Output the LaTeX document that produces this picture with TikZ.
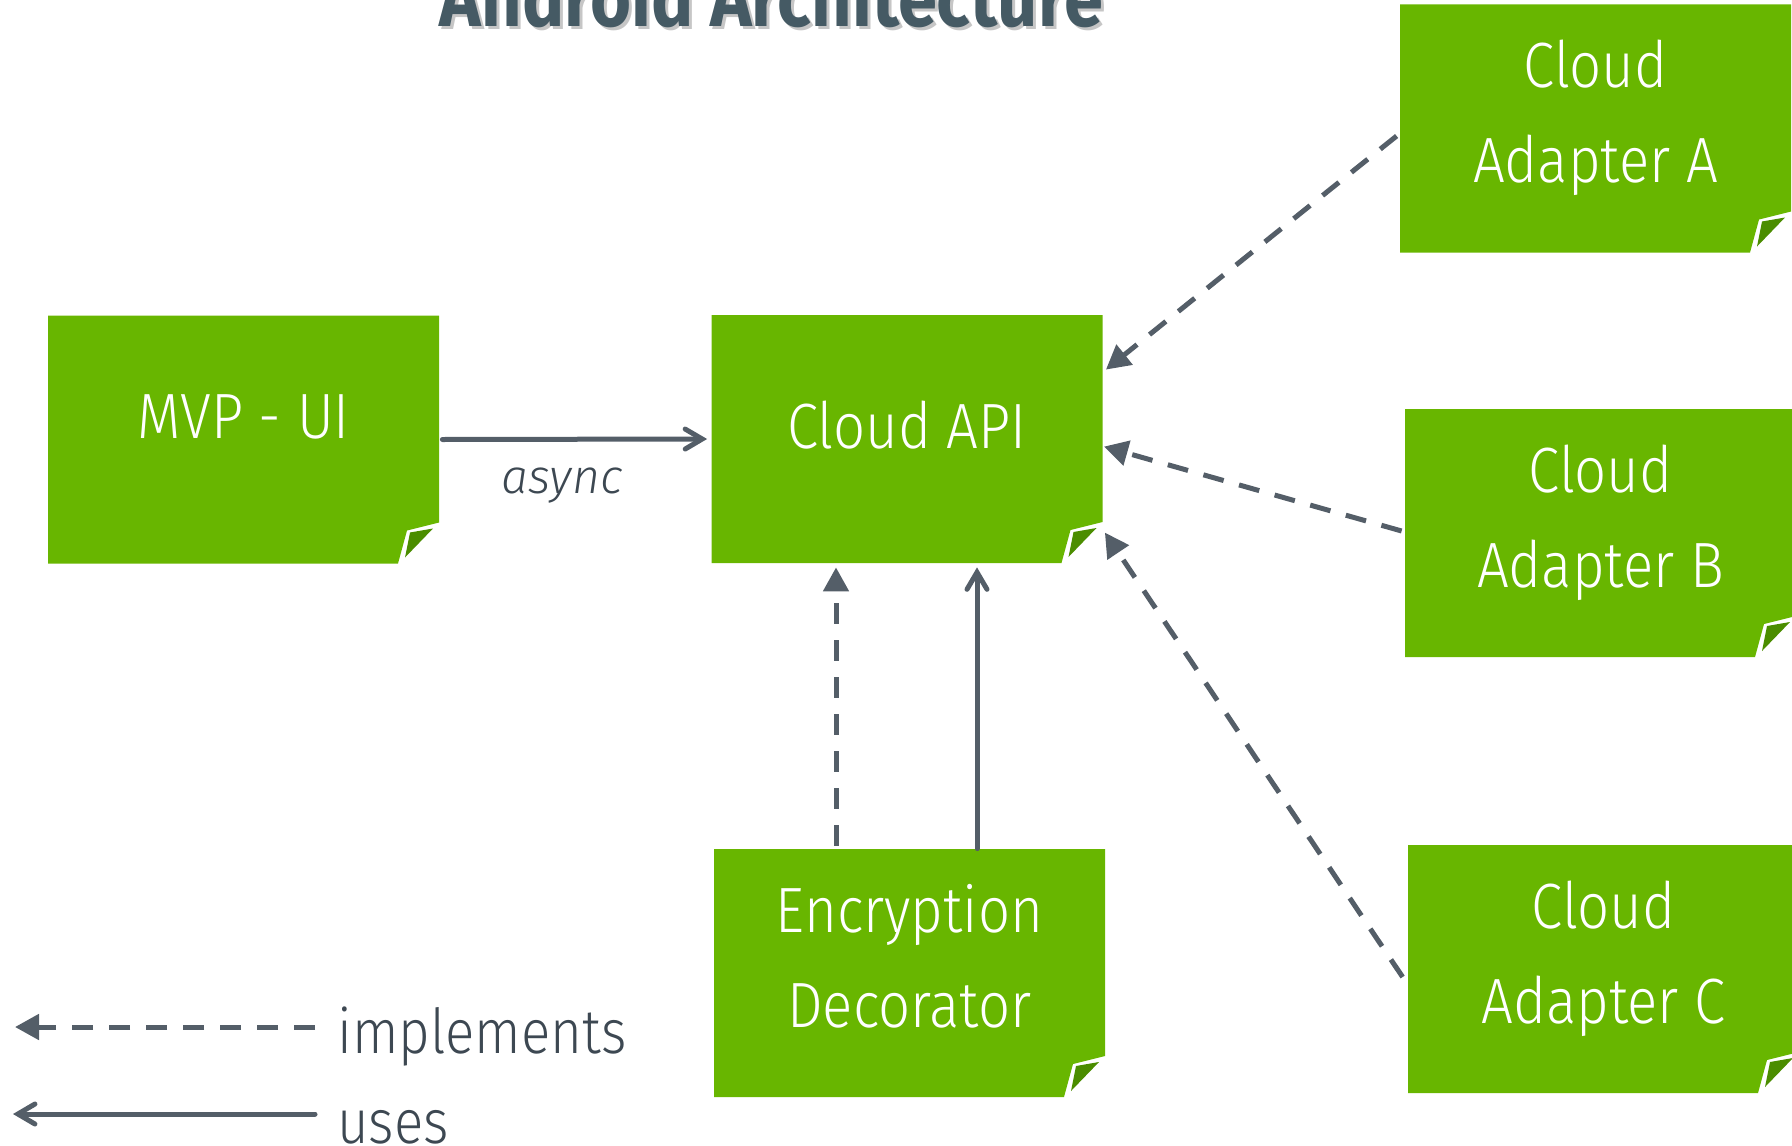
\documentclass[tikz,border=0pt]{standalone}
\usepackage{fontspec}
\usetikzlibrary{arrows.meta}

\newfontfamily\boxfont{Fira Sans}[UprightFont={* Light},ItalicFont={* Light Italic},FakeStretch=0.88]
\newfontfamily\labelfont{Fira Sans}[UprightFont={* Light},ItalicFont={* Light Italic}]
\newfontfamily\titlefont{Fira Sans}[UprightFont={* Bold},FakeStretch=0.88]

\definecolor{notegreen}{HTML}{68B600}
\definecolor{notefold}{HTML}{4B8D00}
\definecolor{wire}{HTML}{545E68}
\definecolor{ink}{HTML}{3D4852}
\definecolor{titleblue}{HTML}{455A64}
\definecolor{titleshade}{HTML}{C6C6C6}

\tikzset{
  % green note with a folded lower right corner
  note/.style={
    minimum width=195.5pt, minimum height=124pt, inner sep=0pt,
    text=white, font=\boxfont\fontsize{32pt}{47.5pt}\selectfont,
    path picture={
      \fill[notegreen]
        (path picture bounding box.north west)
        -- (path picture bounding box.north east)
        -- ([shift={(0,-41)}]path picture bounding box.south east)
        -- ([shift={(-32,-33)}]path picture bounding box.south east)
        -- ([shift={(-41,0)}]path picture bounding box.south east)
        -- (path picture bounding box.south west) -- cycle;
      \fill[notefold]
        ([shift={(-29,-31)}]path picture bounding box.south east)
        -- ([shift={(-6,-35)}]path picture bounding box.south east)
        -- ([shift={(-34,-6)}]path picture bounding box.south east) -- cycle;
    }},
  twoline/.style={text height=0pt, text depth=41pt},
  impl/.style={wire, line width=2.5pt, dash pattern=on 10.5pt off 8pt,
    -{Triangle[length=12pt,width=12.5pt]}},
  uses/.style={wire, line width=2.5pt, line cap=round,
    -{Straight Barb[length=8.5pt,width=10pt,line cap=round]}},
  legendtext/.style={text=ink, inner sep=0pt, anchor=base west,
    font=\boxfont\fontsize{31pt}{37pt}\selectfont},
  titletext/.style={inner sep=0pt, anchor=base,
    font=\titlefont\fontsize{40pt}{48pt}\selectfont},
}

\begin{document}
\begin{tikzpicture}[x=0.5pt, y=-0.5pt]
\useasboundingbox (0,0) rectangle (1792,1145);
\clip (0,0) rectangle (1792,1145);

% title
\node[titletext, text=titleshade] (titleshadow) at (774.5,30) {Android Architecture};
\node[titletext, text=titleblue] (title) at (771.5,27) {Android Architecture};

% components
\node[note, text height=0pt, text depth=1.5pt] (mvp) at (243.5,439.5) {MVP - UI};
\node[note, text height=9.5pt, text depth=0pt] (api) at (907,439) {Cloud API};
\node[note, twoline] (dec) at (909.5,973)
  {\setlength\tabcolsep{0pt}\begin{tabular}[t]{c}Encryption\\Decorator\end{tabular}};
\node[note, twoline] (adA) at (1595.5,128.5)
  {\setlength\tabcolsep{0pt}\begin{tabular}[t]{c}Cloud\\Adapter A\end{tabular}};
\node[note, twoline] (adB) at (1600.5,533)
  {\setlength\tabcolsep{0pt}\begin{tabular}[t]{c}Cloud\\Adapter B\end{tabular}};
\node[note, twoline] (adC) at (1603.5,969)
  {\setlength\tabcolsep{0pt}\begin{tabular}[t]{c}Cloud\\Adapter C\end{tabular}};

% MVP uses the Cloud API asynchronously
\draw[uses] ([xshift=1.5pt]mvp.east) -- ([xshift=-2pt]api.west);
\node[text=ink, inner sep=0pt, anchor=base,
      font=\labelfont\itshape\fontsize{24pt}{28pt}\selectfont] (asynclabel) at (562,493) {async};

% decorator implements and uses the Cloud API
\draw[impl] ([xshift=-35.5pt,yshift=1.5pt]api.south |- dec.north) -- ([xshift=-35.5pt,yshift=-2pt]api.south);
\draw[uses] ([xshift=35pt]api.south |- dec.north) -- ([xshift=35pt,yshift=-2pt]api.south);

% adapters implement the Cloud API
\draw[impl] ([xshift=-1.5pt,yshift=-3.75pt]adA.west) -- ([xshift=1.5pt,yshift=-27.5pt]api.north east);
\draw[impl] ([xshift=-1.5pt,yshift=1pt]adB.west) -- ([xshift=0.5pt,yshift=-66pt]api.north east);
\draw[impl] ([xshift=-2.5pt,yshift=-4pt]adC.west) -- ([xshift=1pt,yshift=-109pt]api.north east);

% legend
\coordinate (implFrom) at (315,1027);
\coordinate (implTo) at (15,1027);
\coordinate (usesFrom) at (315,1114);
\coordinate (usesTo) at (13,1114);
\draw[impl] (implFrom) -- (implTo);
\draw[uses] (usesFrom) -- (usesTo);
\node[legendtext] (implLabel) at (337,1053) {implements};
\node[legendtext] (usesLabel) at (337,1143) {uses};
\end{tikzpicture}
\end{document}
